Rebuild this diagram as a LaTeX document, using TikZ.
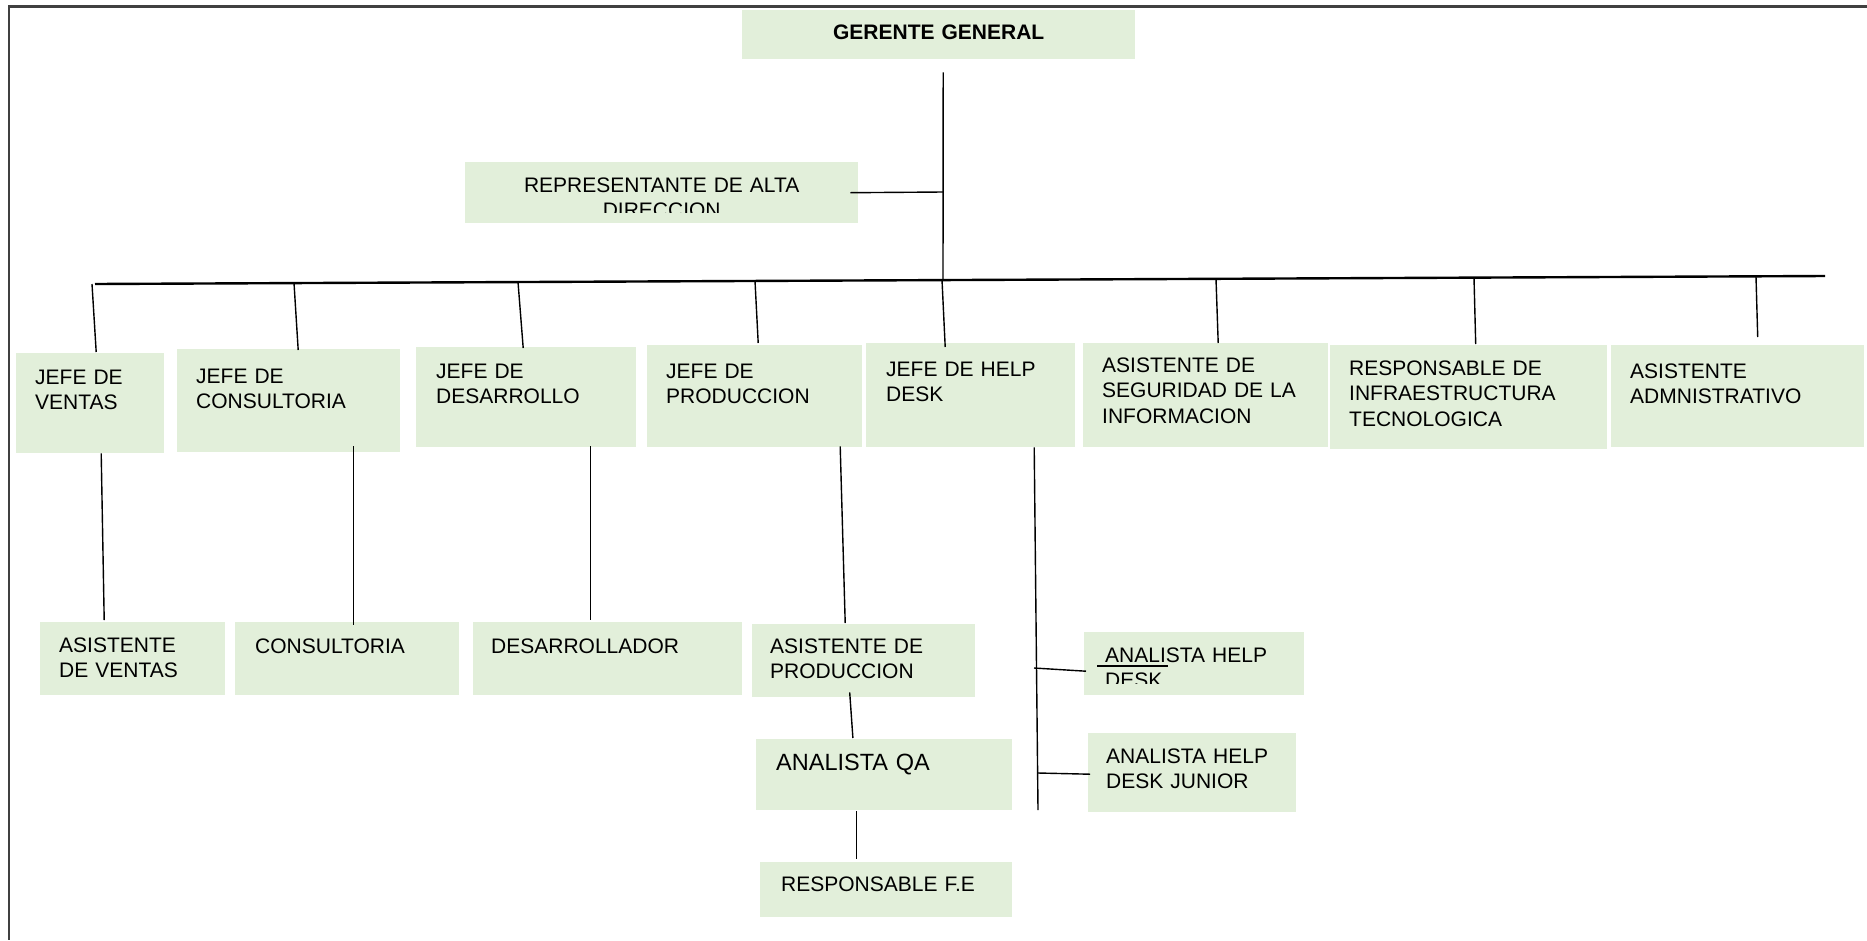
\documentclass[tikz,border=0pt]{standalone}
\usepackage{fontspec}
\setmainfont{Liberation Sans}
\definecolor{boxgreen}{HTML}{E2EFDA}
\definecolor{framegray}{HTML}{404040}
\tikzset{
  % filled job box: text width, side padding, first-baseline offset, remaining depth
  jobbox/.style n args={4}{fill=boxgreen, anchor=north west, inner ysep=0pt,
    align=left, font=\fontsize{21}{25.5}\selectfont, text=black,
    text width=#1pt, inner xsep=#2pt, text height=#3pt, text depth=#4pt},
  plainbox/.style={fill=boxgreen, anchor=north west, inner sep=0pt},
  conn/.style={line width=1.4pt, black},
  busline/.style={line width=2.4pt, black},
}
\begin{document}
\begin{tikzpicture}[x=1pt, y=-1pt]
\useasboundingbox (0,0) rectangle (1867,940);
\fill[white] (0,0) rectangle (1867,940);

% frame
\draw[line width=3pt, framegray] (8,6) -- (1867,6);
\draw[line width=1.6pt, framegray] (9,5) -- (9,940);

% top
\node[jobbox={393}{0}{29}{20}, align=center,
      font=\fontsize{21}{25.5}\selectfont\bfseries] (gg) at (742,10) {GERENTE GENERAL};

\node[plainbox, minimum width=393pt, minimum height=61pt] (rep) at (465,162) {};
\begin{scope}
  \clip (rep.north west) rectangle ([yshift=11pt]rep.south east);
  \node[jobbox={393}{0}{30}{31}, fill=none, align=center] (reptext) at (rep.north west)
    {REPRESENTANTE DE ALTA\\DIRECCION};
\end{scope}

% second level
\node[jobbox={110}{19}{31}{69}] (v) at (16,353) {JEFE DE\\VENTAS};
\node[jobbox={185}{19}{34}{69}] (c) at (177,349) {JEFE DE\\CONSULTORIA};
\node[jobbox={180}{20}{31}{69}] (d) at (416,347) {JEFE DE\\DESARROLLO};
\node[jobbox={177}{19}{33}{69}] (p) at (647,345) {JEFE DE\\PRODUCCION};
\node[jobbox={169}{20}{33}{71}] (h) at (866,343) {JEFE DE HELP\\DESK};
\node[jobbox={207}{19}{29}{75}] (s) at (1083,343) {ASISTENTE DE\\SEGURIDAD DE LA\\INFORMACION};
\node[jobbox={239}{19}{30}{74}] (i) at (1330,345) {RESPONSABLE DE\\INFRAESTRUCTURA\\TECNOLOGICA};
\node[jobbox={215}{19}{33}{69}] (a) at (1611,345) {ASISTENTE\\ADMNISTRATIVO};

% third level
\node[jobbox={147}{19}{30}{43}] (av) at (40,622) {ASISTENTE\\DE VENTAS};
\node[jobbox={184}{20}{31}{42}] (co) at (235,622) {CONSULTORIA};
\node[jobbox={233}{18}{31}{42}] (de) at (473,622) {DESARROLLADOR};
\node[jobbox={187}{18}{29}{44}] (ap) at (752,624) {ASISTENTE DE\\PRODUCCION};
\node[jobbox={216}{20}{31}{40}, font=\fontsize{23.5}{28}\selectfont] (qa) at (756,739) {ANALISTA QA};
\node[jobbox={210}{21}{29}{26}] (rf) at (760,862) {RESPONSABLE F.E};

\node[plainbox, minimum width=220pt, minimum height=63pt] (hd1) at (1084,632) {};
\begin{scope}
  \clip (hd1.north west) rectangle ([yshift=12pt]hd1.south east);
  \node[jobbox={178}{21}{30}{33}, fill=none] (hd1text) at (hd1.north west) {ANALISTA HELP\\DESK};
\end{scope}
\node[jobbox={172}{18}{30}{49}] (hd2) at (1088,733) {ANALISTA HELP\\DESK JUNIOR};

% trunk and bus
\coordinate (busL) at (95,284);
\coordinate (busR) at (1825,276);
\coordinate (hub) at (943,280);
\coordinate (reptap) at (943,192);
\draw[conn] ([xshift=4.5pt,yshift=-13pt]gg.south) -- (hub);
\draw[conn] ([xshift=-8pt]rep.east) -- (reptap);
\draw[busline] (busL) -- (busR);

% drops from the bus
\coordinate (t1) at (92,284);
\coordinate (t2) at (294,283);
\coordinate (t3) at (518,282);
\coordinate (t4) at (755,281);
\coordinate (t5) at (942,280);
\coordinate (t6) at (1216,279);
\coordinate (t7) at (1474,278);
\coordinate (t8) at (1756,277);
\draw[conn] (t1) -- ([xshift=6pt,yshift=1pt]v.north);
\draw[conn] (t2) -- ([xshift=9.5pt,yshift=-1pt]c.north);
\draw[conn] (t3) -- ([xshift=-3pt,yshift=-1pt]d.north);
\draw[conn] (t4) -- ([xshift=3.5pt,yshift=2pt]p.north);
\draw[conn] (t5) -- ([xshift=-25.5pt,yshift=-4pt]h.north);
\draw[conn] (t6) -- ([xshift=12.5pt]s.north);
\draw[conn] (t7) -- ([xshift=7pt,yshift=1pt]i.north);
\draw[conn] (t8) -- ([xshift=20pt,yshift=8pt]a.north);

% second to third level
\draw[conn] ([xshift=11pt]v.south) -- ([xshift=-28.5pt,yshift=2pt]av.north);
\draw[conn] ([xshift=64.5pt,yshift=6pt]c.south) -- ([xshift=6pt,yshift=-3pt]co.north);
\draw[conn] ([xshift=64.5pt,yshift=1pt]d.south) -- ([xshift=-17pt,yshift=2pt]de.north);
\draw[conn] ([xshift=85.5pt,yshift=1pt]p.south) -- ([xshift=-18.5pt,yshift=1pt]ap.north);
\draw[conn] ([xshift=-14pt,yshift=5pt]ap.south) -- ([xshift=-31.3pt,yshift=1pt]qa.north);
\draw[conn] ([xshift=-28pt,yshift=-1pt]qa.south) -- ([xshift=-30pt,yshift=3pt]rf.north);

% help desk branch
\coordinate (hdtop) at ([xshift=63.5pt]h.south);
\coordinate (hdbot) at (1038,810);
\coordinate (hdj1) at (1034,668);
\coordinate (hdj2) at (1038,773);
\draw[conn] (hdtop) -- (hdbot);
\draw[conn] (hdj1) -- ([xshift=2pt,yshift=-7.5pt]hd1.west);
\draw[conn] (hdj2) -- ([xshift=2pt,yshift=-1.5pt]hd2.west);
\draw[line width=1.2pt] ([xshift=13pt,yshift=-34pt]hd1.north west) -- ([xshift=84pt,yshift=-34pt]hd1.north west);
\end{tikzpicture}
\end{document}
